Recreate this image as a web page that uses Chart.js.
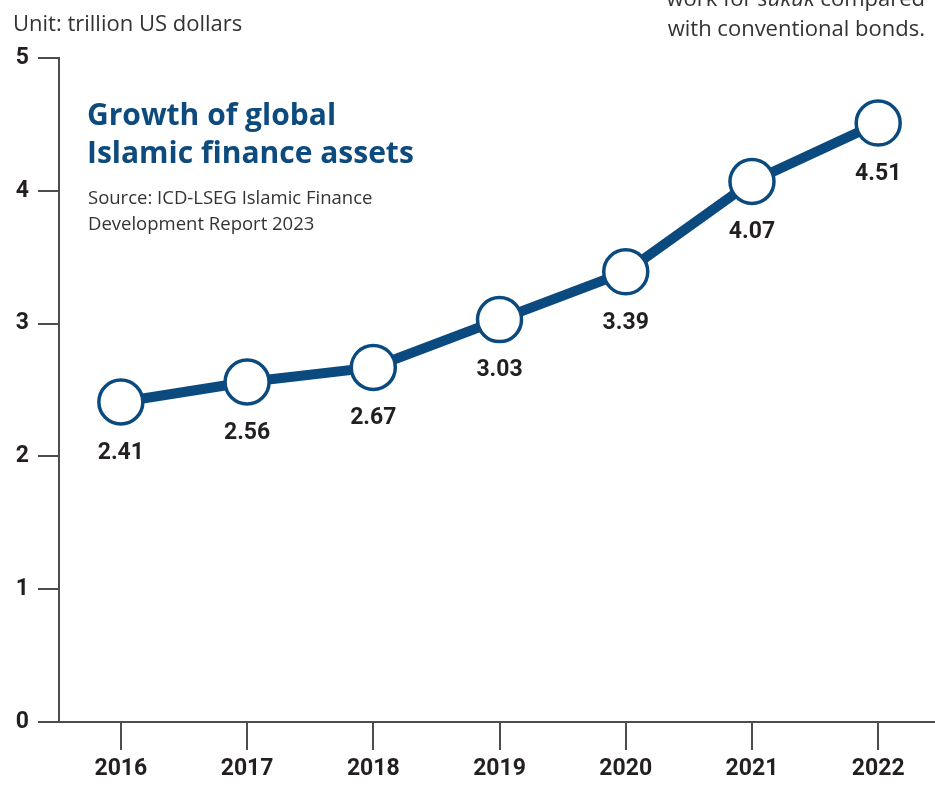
<!DOCTYPE html>
<html><head><meta charset="utf-8">
<script src="https://cdn.jsdelivr.net/npm/chart.js@4"></script>
<style>
html,body{margin:0;padding:0;background:#fff;overflow:hidden}
#wrap{position:relative;width:935px;height:787px}
canvas{position:absolute;left:0;top:0}
.t{position:absolute;font-family:"Open Sans",Roboto,sans-serif;color:#333;white-space:nowrap}
</style></head><body>
<div id="wrap">
<canvas id="c" width="935" height="787"></canvas>
<div class="t" style="left:13px;top:7px;font-size:22px;">Unit: trillion US dollars</div>
<div class="t" style="right:10px;top:-18px;font-size:22px;text-align:right;line-height:30px">work for <i>sukuk</i> compared<br>with conventional bonds.</div>
<div class="t" style="left:87px;top:95px;font-size:30px;font-weight:700;color:#0d4a7d;line-height:38px;letter-spacing:0px">Growth of global<br>Islamic finance assets</div>
<div class="t" style="left:88px;top:184px;font-size:18.5px;line-height:26px;color:#333">Source: ICD-LSEG Islamic Finance<br>Development Report 2023</div>
</div>
<script>
const years = [2016, 2017, 2018, 2019, 2020, 2021, 2022];
const assets = [2.41, 2.56, 2.67, 3.03, 3.39, 4.07, 4.51];
const yTicks = [0, 1, 2, 3, 4, 5];

const BLUE = '#0b4a7e';
const AXIS = '#4d4d4d';

const labelPlugin = {
  id: 'valLabels',
  afterDatasetsDraw(chart) {
    const ctx = chart.ctx;
    const meta = chart.getDatasetMeta(0);
    ctx.save();
    ctx.font = 'bold 23px Roboto, sans-serif';
    ctx.fillStyle = '#231f20';
    ctx.textAlign = 'center';
    ctx.textBaseline = 'middle';
    meta.data.forEach((pt, i) => {
      ctx.fillText(assets[i].toFixed(2), pt.x, pt.y + 51);
    });
    ctx.restore();
  }
};

new Chart(document.getElementById('c'), {
  type: 'line',
  data: {
    datasets: [{
      data: years.map((y, i) => ({x: y, y: assets[i]})),
      borderColor: BLUE,
      borderWidth: 10,
      pointRadius: 22,
      pointHoverRadius: 22,
      pointBackgroundColor: '#fff',
      pointBorderColor: BLUE,
      pointBorderWidth: 3.5,
      tension: 0,
      clip: false
    }]
  },
  options: {
    responsive: false,
    animation: false,
    events: [],
    layout: {autoPadding: false, padding: {top: 58, right: 0, left: 0, bottom: 0}},
    plugins: {legend: {display: false}, tooltip: {enabled: false}},
    scales: {
      x: {
        type: 'linear',
        min: 2015.51,
        max: 2022.45,
        afterBuildTicks: s => { s.ticks = years.map(v => ({value: v})); },
        afterFit: s => { s.height = 65; s.paddingLeft = 0; s.paddingRight = 0; },
        border: {display: true, color: AXIS, width: 2},
        grid: {drawOnChartArea: false, drawTicks: true, tickLength: 28, tickColor: AXIS, lineWidth: 2},
        ticks: {
          callback: v => String(v),
          color: '#231f20',
          font: {family: 'Roboto, sans-serif', size: 23, weight: 'bold'},
          padding: 5,
          maxRotation: 0
        }
      },
      y: {
        min: 0,
        max: 5,
        afterBuildTicks: s => { s.ticks = yTicks.map(v => ({value: v})); },
        afterFit: s => { s.width = 59; s.paddingTop = 0; s.paddingBottom = 0; },
        border: {display: true, color: AXIS, width: 2},
        grid: {drawOnChartArea: false, drawTicks: true, tickLength: 21, tickColor: AXIS, lineWidth: 2},
        ticks: {
          color: '#231f20',
          font: {family: 'Roboto, sans-serif', size: 23, weight: 'bold'},
          padding: 9
        }
      }
    }
  },
  plugins: [labelPlugin]
});
</script>
</body></html>
